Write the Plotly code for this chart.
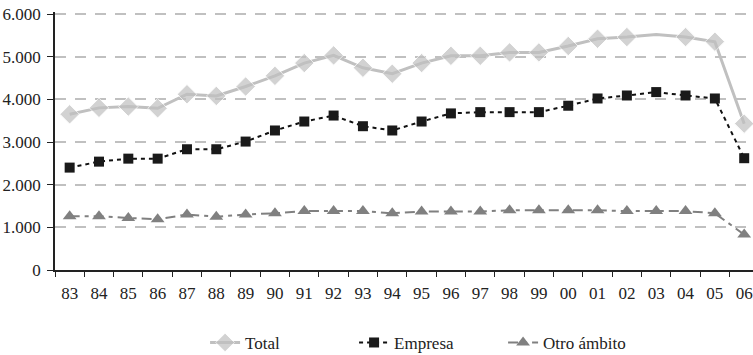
import plotly.graph_objects as go

years = ["83", "84", "85", "86", "87", "88", "89", "90", "91", "92", "93", "94",
         "95", "96", "97", "98", "99", "00", "01", "02", "03", "04", "05", "06"]
total = [3650, 3800, 3830, 3790, 4120, 4080, 4300, 4550, 4850, 5030, 4740, 4600,
         4850, 5020, 5020, 5100, 5100, 5250, 5420, 5460, 5520, 5460, 5350, 3430]
empresa = [2400, 2540, 2610, 2610, 2830, 2830, 3010, 3270, 3480, 3620, 3370, 3270,
           3480, 3670, 3700, 3700, 3700, 3850, 4020, 4090, 4170, 4090, 4020, 2620]
otro = [1260, 1260, 1220, 1190, 1300, 1250, 1300, 1330, 1380, 1380, 1380, 1330,
        1370, 1370, 1370, 1400, 1400, 1400, 1400, 1380, 1380, 1380, 1330, 830]
y_ticks = [0, 1000, 2000, 3000, 4000, 5000, 6000]
# the 2003 point of Total has no marker in the original
total_marker_sizes = [15 if y != "03" else 0 for y in years]

FONT = "Liberation Serif"
TXT = "#222222"

fig = go.Figure()
fig.add_trace(go.Scatter(
    x=years, y=total, name="Total", mode="lines+markers",
    line=dict(color="#c0c0c0", width=3),
    marker=dict(symbol="diamond", size=total_marker_sizes, color="#c0c0c0"),
))
fig.add_trace(go.Scatter(
    x=years, y=empresa, name="Empresa", mode="lines+markers",
    line=dict(color="#111111", width=2, dash="4px,4px"),
    marker=dict(symbol="square", size=10, color="#1a1a1a"),
))
fig.add_trace(go.Scatter(
    x=years, y=otro, name="Otro ámbito", mode="lines+markers",
    line=dict(color="#808080", width=2, dash="10px,5px,4px,5px"),
    marker=dict(symbol="triangle-up", size=12, color="#808080"),
))

fig.update_layout(
    width=753, height=355,
    margin=dict(l=55, r=0, t=12, b=85, autoexpand=False),
    paper_bgcolor="white", plot_bgcolor="white",
    separators=",.",
    font=dict(family=FONT, size=17, color=TXT),
    showlegend=True,
    legend=dict(orientation="h", x=0.215, xanchor="left",
                yref="container", y=0.034, yanchor="middle",
                font=dict(family=FONT, size=17, color=TXT),
                entrywidth=104, entrywidthmode="pixels",
                bgcolor="rgba(0,0,0,0)"),
)
fig.update_xaxes(
    type="category", range=[-0.5, 23.3], automargin=False,
    showline=True, linecolor="#222222", linewidth=1.5,
    ticks="outside", ticklen=5, tickcolor="#222222", tickwidth=1.2,
    tickson="boundaries", showgrid=False, ticklabelstandoff=7,
    ticklabeloverflow="allow",
    tickfont=dict(family=FONT, size=17, color=TXT),
)
fig.update_yaxes(
    range=[0, 6046.875], tickvals=y_ticks, automargin=False,
    tickformat=",d",
    showline=True, linecolor="#222222", linewidth=1.5,
    ticks="outside", ticklen=6, tickcolor="#222222", tickwidth=1.2,
    showgrid=True, gridcolor="#c0c0c0", gridwidth=2, griddash="11px,9px",
    zeroline=False, ticklabelstandoff=3, ticklabeloverflow="allow",
    tickfont=dict(family=FONT, size=17, color=TXT),
)

# remove the browser's default 8px page margin so the figure fills the window
fig.write_html("out.html", config={"displayModeBar": False},
               post_script="document.body.style.margin = '0px';")
